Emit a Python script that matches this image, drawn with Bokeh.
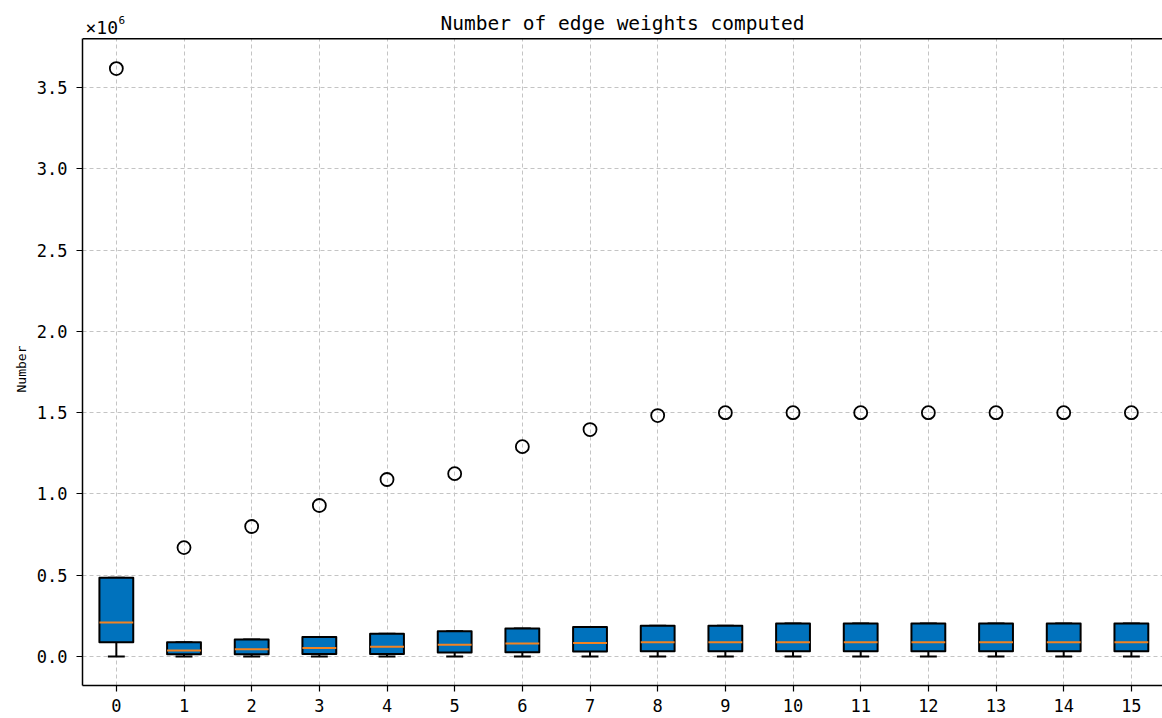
from bokeh.plotting import figure
from bokeh.models import (FixedTicker, NumeralTickFormatter, Label, Span, Range1d,
                          BoxAnnotation, Title)
from bokeh.embed import file_html
from bokeh.resources import INLINE

# Box statistics per group (raw counts)
groups = list(range(16))
q1 = [88000, 14000, 14000, 16000, 16000, 25000, 27000, 31000,
      33000, 33000, 33000, 33000, 33000, 33000, 33000, 33000]
medians = [209000, 37000, 45000, 53000, 61000, 72000, 80000, 83000,
           88000, 88000, 88000, 88000, 88000, 88000, 88000, 88000]
q3 = [485000, 88000, 105000, 121000, 141000, 156000, 172000, 182000,
      190000, 190000, 203000, 203000, 203000, 203000, 203000, 203000]
whisker_low = [0] * 16
whisker_high = q3[:]
outliers = [3616000, 670000, 800000, 929000, 1089000, 1125000, 1291000, 1396000,
            1482000, 1500000, 1500000, 1500000, 1500000, 1500000, 1500000, 1500000]
y_ticks = [0.0, 0.5, 1.0, 1.5, 2.0, 2.5, 3.0, 3.5]
title_text = "Number of edge weights computed"
y_label = "Number"

SCALE = 1e6
FONT = "DejaVu Sans Mono"
BOX_W = 0.5
CAP_W = 0.25
Y_MIN, Y_TOP = -0.178, 3.80      # axes box limits
PX = 162.6                       # pixels per unit on the y axis
Y_END = Y_MIN + 685 / PX         # canvas top (room for title and scale)

sc = lambda arr: [v / SCALE for v in arr]

p = figure(width=1162, height=718, output_backend="svg", toolbar_location=None,
           x_range=Range1d(-0.5, 15.46), y_range=Range1d(Y_MIN, Y_END),
           min_border_left=82, min_border_right=0, min_border_top=0,
           min_border_bottom=33)

p.outline_line_color = None
p.background_fill_color = "white"
p.border_fill_color = "white"

# grid
for g in (p.xgrid, p.ygrid):
    g.grid_line_color = "#c4c4c4"
    g.grid_line_dash = "4 3"
    g.grid_line_width = 1
p.xgrid.ticker = FixedTicker(ticks=groups)
p.ygrid.ticker = FixedTicker(ticks=y_ticks)

# axes
p.xaxis.ticker = FixedTicker(ticks=groups)
p.yaxis.ticker = FixedTicker(ticks=y_ticks)
p.yaxis.formatter = NumeralTickFormatter(format="0.0")
p.yaxis.bounds = (Y_MIN, Y_TOP)
for ax in (p.xaxis, p.yaxis):
    ax.axis_line_color = "black"
    ax.axis_line_width = 1.5
    ax.major_tick_line_color = "black"
    ax.major_tick_line_width = 1.2
    ax.major_tick_out = 6
    ax.major_tick_in = 0
    ax.minor_tick_line_color = None
    ax.major_label_text_font = FONT
    ax.major_label_text_font_size = "17px"
    ax.major_label_text_color = "black"
p.xaxis.major_label_standoff = 7
p.yaxis.major_label_standoff = 9

# y axis title, centred on the axes box
p.add_layout(Title(text=y_label, align="left", offset=293, standoff=10,
                   text_font=FONT, text_font_size="13px", text_font_style="normal",
                   text_color="black"), "left")

# whiskers
p.segment(x0=groups, y0=sc(q1), x1=groups, y1=sc(whisker_low), line_color="black", line_width=2)
p.segment(x0=groups, y0=sc(q3), x1=groups, y1=sc(whisker_high), line_color="black", line_width=2)
p.segment(x0=[g - CAP_W / 2 for g in groups], y0=sc(whisker_low),
          x1=[g + CAP_W / 2 for g in groups], y1=sc(whisker_low),
          line_color="black", line_width=2)
p.segment(x0=[g - CAP_W / 2 for g in groups], y0=sc(whisker_high),
          x1=[g + CAP_W / 2 for g in groups], y1=sc(whisker_high),
          line_color="black", line_width=2)

# boxes
p.vbar(x=groups, width=BOX_W, bottom=sc(q1), top=sc(q3),
       fill_color="#0072bd", line_color="black", line_width=2,
       line_join="round")

# medians
p.segment(x0=[g - BOX_W / 2 for g in groups], y0=sc(medians),
          x1=[g + BOX_W / 2 for g in groups], y1=sc(medians),
          line_color="#f28322", line_width=2)

# outliers
p.scatter(x=groups, y=sc(outliers), marker="circle", size=13,
          fill_color=None, line_color="black", line_width=1.8)

# blank strip above the axes box, then the top spine
p.add_layout(BoxAnnotation(bottom=Y_TOP, fill_color="white", fill_alpha=1.0,
                           line_color=None))
p.add_layout(Span(location=Y_TOP, dimension="width", line_color="black", line_width=1.5))

# title
p.add_layout(Label(x=(-0.5 + 15.46) / 2, y=Y_END - 23 / PX, text=title_text,
                   text_align="center", text_baseline="alphabetic",
                   text_font=FONT, text_font_size="19.5px", text_color="black"))

# scale factor annotation
p.add_layout(Label(x=-0.5, y=Y_END - 27 / PX, text="\u00d710", x_offset=3,
                   text_font=FONT, text_font_size="18px", text_baseline="alphabetic",
                   text_color="black"))
p.add_layout(Label(x=-0.5, y=Y_END - 19 / PX, text="6", x_offset=36,
                   text_font=FONT, text_font_size="11px", text_baseline="alphabetic",
                   text_color="black"))

open("out.html", "w").write(file_html(p, INLINE))
